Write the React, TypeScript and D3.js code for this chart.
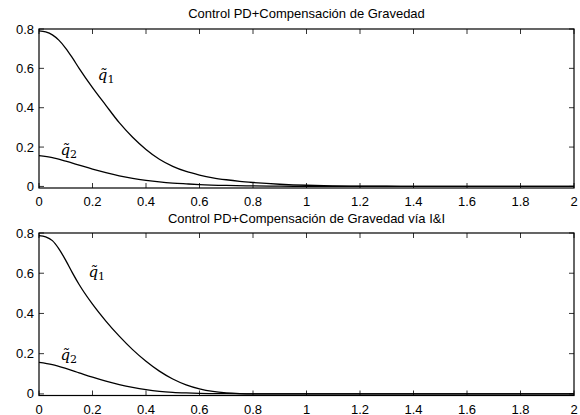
import React from "react";
import * as d3 from "d3";

const W = 580;
const H = 415;

const xTicks = [0, 0.2, 0.4, 0.6, 0.8, 1, 1.2, 1.4, 1.6, 1.8, 2];
const yTicks = [0, 0.2, 0.4, 0.6, 0.8];
const titles = [
  "Control PD+Compensación de Gravedad",
  "Control PD+Compensación de Gravedad vía I&I",
];

// Panel 1 (PD + gravity compensation)
const t1q1 = [0, 0.025, 0.05, 0.075, 0.1, 0.125, 0.15, 0.2, 0.25, 0.3, 0.35, 0.4, 0.45, 0.5, 0.55, 0.6, 0.65, 0.7, 0.75, 0.8, 0.85, 0.9, 0.95, 1.0, 1.1, 1.2, 1.3, 1.4, 1.5, 1.6, 1.8, 2.0];
const v1q1 = [0.79, 0.785, 0.77, 0.742, 0.702, 0.653, 0.6, 0.502, 0.412, 0.324, 0.25, 0.188, 0.138, 0.102, 0.076, 0.058, 0.044, 0.034, 0.026, 0.02, 0.015, 0.011, 0.008, 0.006, 0.003, 0.0015, 0.0008, 0.0004, 0.0002, 0.0, 0.0, 0.0];
const t1q2 = [0, 0.05, 0.1, 0.15, 0.2, 0.25, 0.3, 0.35, 0.4, 0.45, 0.5, 0.55, 0.6, 0.7, 0.8, 0.9, 1.0, 1.2, 1.4, 2.0];
const v1q2 = [0.156, 0.146, 0.128, 0.108, 0.088, 0.07, 0.054, 0.041, 0.031, 0.023, 0.017, 0.013, 0.0095, 0.005, 0.0025, 0.0012, 0.0006, 0.0001, 0.0, 0.0];

// Panel 2 (via I&I)
const t2q1 = [0, 0.025, 0.05, 0.075, 0.1, 0.125, 0.15, 0.2, 0.25, 0.3, 0.35, 0.4, 0.45, 0.5, 0.55, 0.6, 0.65, 0.7, 0.75, 0.8, 1.0, 1.5, 2.0];
const v2q1 = [0.787, 0.781, 0.762, 0.72, 0.664, 0.602, 0.544, 0.446, 0.362, 0.287, 0.22, 0.162, 0.113, 0.074, 0.045, 0.025, 0.012, 0.005, 0.0015, 0.0, 0.0, 0.0, 0.0];
const t2q2 = [0, 0.05, 0.1, 0.15, 0.2, 0.25, 0.3, 0.35, 0.4, 0.45, 0.5, 0.55, 0.6, 0.7, 0.8, 1.0, 1.5, 2.0];
const v2q2 = [0.157, 0.146, 0.127, 0.105, 0.083, 0.063, 0.046, 0.032, 0.021, 0.013, 0.008, 0.005, 0.003, 0.001, 0.0, 0.0, 0.0, 0.0];

const xDomain: [number, number] = [0, 2];
const yDomain: [number, number] = [-0.008, 0.8];

type Series = { t: number[]; v: number[] };

const font = "'Liberation Sans', Arial, Helvetica, sans-serif";

function Label({ x, y, sub }: { x: number; y: number; sub: string }) {
  return (
    <text x={x} y={y} fontFamily="'DejaVu Serif', 'Liberation Serif', serif" fontSize={15}>
      <tspan fontStyle="italic">q̃</tspan>
      <tspan fontSize={11} dy={3}>{sub}</tspan>
    </text>
  );
}

function Panel({
  top,
  bottom,
  title,
  titleY,
  series,
  labels,
}: {
  top: number;
  bottom: number;
  title: string;
  titleY: number;
  series: Series[];
  labels: { t: number; v: number; sub: string }[];
}) {
  const left = 39;
  const right = 574;
  const x = d3.scaleLinear().domain(xDomain).range([left, right]);
  const y = d3.scaleLinear().domain(yDomain).range([bottom, top]);
  const line = d3
    .line<[number, number]>()
    .x((d) => x(d[0]))
    .y((d) => y(d[1]))
    .curve(d3.curveMonotoneX);
  const tl = 5;
  return (
    <g>
      <text x={(left + right) / 2} y={titleY} textAnchor="middle" fontFamily={font} fontSize={13}>
        {title}
      </text>
      {series.map((s, i) => (
        <path
          key={i}
          d={line(s.t.map((t, j) => [t, s.v[j]] as [number, number])) || ""}
          fill="none"
          stroke="#000"
          strokeWidth={1.3}
        />
      ))}
      <rect x={left} y={top} width={right - left} height={bottom - top} fill="none" stroke="#000" strokeWidth={1.2} />
      {xTicks.map((t) => (
        <g key={"x" + t}>
          <line x1={x(t)} x2={x(t)} y1={bottom} y2={bottom - tl} stroke="#000" strokeWidth={0.8} />
          <line x1={x(t)} x2={x(t)} y1={top} y2={top + tl} stroke="#000" strokeWidth={0.8} />
          <text x={x(t)} y={bottom + 18} textAnchor="middle" fontFamily={font} fontSize={13}>
            {String(t)}
          </text>
        </g>
      ))}
      {yTicks.map((t) => (
        <g key={"y" + t}>
          <line x1={left} x2={left + tl} y1={y(t)} y2={y(t)} stroke="#000" strokeWidth={0.8} />
          <line x1={right} x2={right - tl} y1={y(t)} y2={y(t)} stroke="#000" strokeWidth={0.8} />
          <text x={left - 5} y={y(t) + 4.5} textAnchor="end" fontFamily={font} fontSize={13}>
            {String(t)}
          </text>
        </g>
      ))}
      {labels.map((l, i) => (
        <Label key={i} x={x(l.t)} y={y(l.v)} sub={l.sub} />
      ))}
    </g>
  );
}

export default function App() {
  return (
    <svg width={W} height={H} viewBox={`0 0 ${W} ${H}`} style={{ position: "absolute", left: 0, top: 0, background: "#fff" }}>
      <rect width={W} height={H} fill="#fff" />
      <Panel
        top={29}
        bottom={188}
        title={titles[0]}
        titleY={18}
        series={[
          { t: t1q1, v: v1q1 },
          { t: t1q2, v: v1q2 },
        ]}
        labels={[
          { t: 0.22, v: 0.54, sub: "1" },
          { t: 0.08, v: 0.16, sub: "2" },
        ]}
      />
      <Panel
        top={233}
        bottom={395.5}
        title={titles[1]}
        titleY={223}
        series={[
          { t: t2q1, v: v2q1 },
          { t: t2q2, v: v2q2 },
        ]}
        labels={[
          { t: 0.185, v: 0.58, sub: "1" },
          { t: 0.08, v: 0.17, sub: "2" },
        ]}
      />
    </svg>
  );
}
